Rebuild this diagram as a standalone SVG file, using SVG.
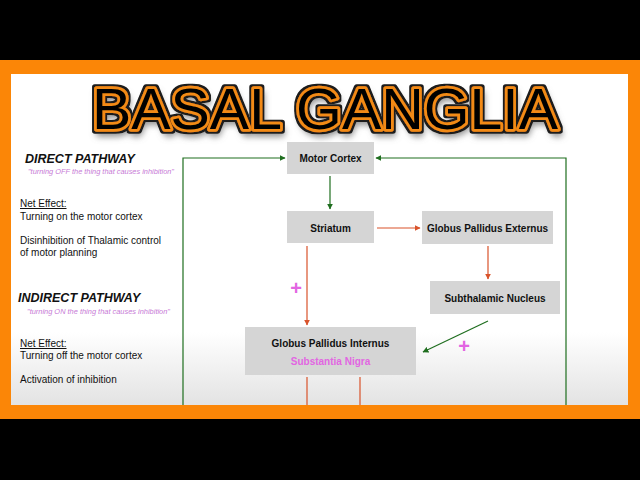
<svg xmlns="http://www.w3.org/2000/svg" width="640" height="480" viewBox="0 0 640 480">
<defs>
<linearGradient id="bg" x1="0" y1="74" x2="0" y2="405" gradientUnits="userSpaceOnUse">
<stop offset="0" stop-color="#ffffff"/>
<stop offset="0.78" stop-color="#ffffff"/>
<stop offset="1" stop-color="#e3e3e3"/>
</linearGradient>
<filter id="tf" x="-5%" y="-25%" width="110%" height="170%">
<feMorphology in="SourceAlpha" operator="dilate" radius="1.6" result="d"/>
<feFlood flood-color="#1a1a1a"/>
<feComposite in2="d" operator="in" result="outline"/>
<feGaussianBlur in="SourceAlpha" stdDeviation="3" result="b"/>
<feOffset in="b" dx="2" dy="5" result="ob"/>
<feFlood flood-color="#777777" flood-opacity="0.8"/>
<feComposite in2="ob" operator="in" result="shadow"/>
<feMerge><feMergeNode in="shadow"/><feMergeNode in="outline"/><feMergeNode in="SourceGraphic"/></feMerge>
</filter>
<marker id="ag" viewBox="0 0 10 10" refX="9" refY="5" markerWidth="6" markerHeight="6" markerUnits="userSpaceOnUse" orient="auto">
<path d="M0,0 L10,5 L0,10 z" fill="#1f6e1f"/>
</marker>
<marker id="ar" viewBox="0 0 10 10" refX="9" refY="5" markerWidth="6" markerHeight="6" markerUnits="userSpaceOnUse" orient="auto">
<path d="M0,0 L10,5 L0,10 z" fill="#d9532b"/>
</marker>
<style>
.box{fill:#d5d5d5}
.nt{font-family:"Liberation Sans",Arial,sans-serif;font-weight:bold;font-size:10px;fill:#111;text-anchor:middle}
.lt{font-family:"Liberation Sans",Arial,sans-serif;font-size:10px;fill:#111}
.hd{font-family:"Liberation Sans",Arial,sans-serif;font-size:12.5px;font-weight:bold;font-style:italic;fill:#111}
.qt{font-family:"Liberation Sans",Arial,sans-serif;font-size:7px;font-style:italic;fill:#c77ad6}
.g{stroke:#1f6e1f;stroke-width:1.2;fill:none}
.r{stroke:#d9532b;stroke-width:1.2;fill:none}
.plus{font-family:"Liberation Sans",Arial,sans-serif;font-weight:bold;font-size:20px;fill:#e266e2;text-anchor:middle}
.title{font-family:"Liberation Sans",Arial,sans-serif;font-size:58px;fill:#000;stroke:#f28a12;stroke-width:5.5;stroke-linejoin:round;paint-order:stroke}
</style>
</defs>
<rect x="0" y="0" width="640" height="480" fill="#000"/>
<rect x="11" y="74" width="617" height="331" fill="url(#bg)"/>

<g id="title">
<text class="title" x="92" y="129" textLength="466" lengthAdjust="spacingAndGlyphs" filter="url(#tf)">BASAL GANGLIA</text>
</g>

<g id="legend">
<text class="hd" x="25" y="163">DIRECT PATHWAY</text>
<text class="qt" x="28" y="174" textLength="146" lengthAdjust="spacingAndGlyphs">"turning OFF the thing that causes inhibition"</text>
<text class="lt" x="20" y="207" text-decoration="underline">Net Effect:</text>
<text class="lt" x="20" y="219.5">Turning on the motor cortex</text>
<text class="lt" x="20" y="243.5">Disinhibition of Thalamic control</text>
<text class="lt" x="20" y="255.5">of motor planning</text>
<text class="hd" x="18" y="302">INDIRECT PATHWAY</text>
<text class="qt" x="27" y="313.5" textLength="143" lengthAdjust="spacingAndGlyphs">"turning ON the thing that causes inhibition"</text>
<text class="lt" x="20" y="347" text-decoration="underline">Net Effect:</text>
<text class="lt" x="20" y="359">Turning off the motor cortex</text>
<text class="lt" x="20" y="383">Activation of inhibition</text>
</g>

<g id="connectors">
<path class="g" d="M183,412 V158 H285" marker-end="url(#ag)"/>
<path class="g" d="M566,412 V158 H376" marker-end="url(#ag)"/>
<path class="g" d="M330,176 V209" marker-end="url(#ag)"/>
<path class="r" d="M377,228 H420" marker-end="url(#ar)"/>
<path class="r" d="M488,246 V279" marker-end="url(#ar)"/>
<path class="r" d="M307,246 V325" marker-end="url(#ar)"/>
<path class="g" d="M488,321 L423,352" marker-end="url(#ag)"/>
<path class="r" d="M307,377 V410" marker-end="url(#ar)"/>
<path class="r" d="M360,377 V410" marker-end="url(#ar)"/>
</g>

<g id="motor-cortex">
<rect class="box" x="287" y="142" width="87" height="32"/>
<text class="nt" x="330.5" y="161.5">Motor Cortex</text>
</g>
<g id="striatum">
<rect class="box" x="287" y="211" width="87" height="32"/>
<text class="nt" x="330.5" y="231.5">Striatum</text>
</g>
<g id="gpe">
<rect class="box" x="422" y="211" width="131" height="33"/>
<text class="nt" x="487.5" y="231.5">Globus Pallidus Externus</text>
</g>
<g id="stn">
<rect class="box" x="430" y="281" width="130" height="33"/>
<text class="nt" x="495" y="301.5">Subthalamic Nucleus</text>
</g>
<g id="gpi">
<rect class="box" x="245" y="327" width="171" height="48"/>
<text class="nt" x="330.5" y="346.5">Globus Pallidus Internus</text>
<text class="nt" x="330.5" y="364.5" style="fill:#e266e2">Substantia Nigra</text>
</g>

<g id="plus-signs">
<text class="plus" x="296" y="295">+</text>
<text class="plus" x="464" y="353">+</text>
</g>

<path id="frame" fill="#fb8607" fill-rule="evenodd" d="M0,60 H640 V419 H0 Z M11,74 V405 H628 V74 Z"/>
</svg>
